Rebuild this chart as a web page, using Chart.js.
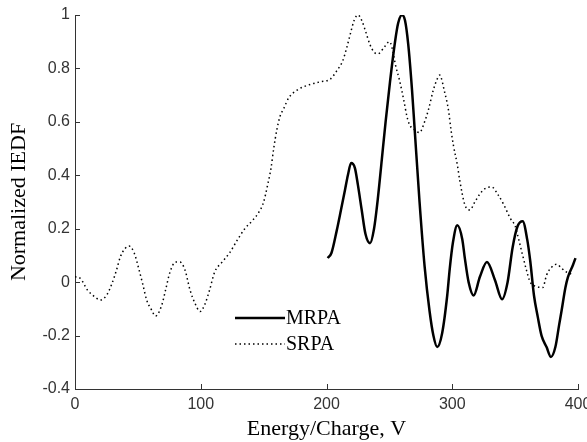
<!DOCTYPE html>
<html>
<head>
<meta charset="utf-8">
<script src="https://cdn.jsdelivr.net/npm/chart.js@4/dist/chart.umd.min.js"></script>
<style>
  html, body { margin: 0; padding: 0; background: #fff; overflow: hidden; width: 587px; height: 442px; }
  canvas { display: block; }
</style>
</head>
<body>
<canvas id="iedfChart" width="600" height="442"></canvas>
<script>
// energy (V) and normalized IEDF
const srpaEnergy = [0,4,10,16,20,25,29,33,36,40,
  43,47,51,54,57,61,64,69,72,75.5,
  80,83.5,87.5,91.5,95.5,99.5,103,107,111,117,
  123,129,135,141,146,150,153,156,158,160.5,
  163,166,170,177,187,195,203,208,213,216,
  219,222,225,228,231,234.5,238,241,246,250,
  252,255,258,261.5,264,266,270,274,278,281,
  285,288,290,294,297,299,301,304,306,310,
  314,318,322,326,331.5,336,341,346,350,353,
  356,359,362,366,372,375,379,383,387,391,
  395];
const srpaValues = [0.02,0.015,-0.03,-0.056,-0.067,-0.05,-0.01,0.045,0.094,0.127,
  0.135,0.11,0.045,-0.01,-0.067,-0.105,-0.127,-0.086,-0.03,0.037,
  0.075,0.075,0.045,-0.03,-0.08,-0.11,-0.086,-0.03,0.037,0.075,
  0.11,0.157,0.2,0.23,0.26,0.3,0.36,0.43,0.5,0.57,
  0.62,0.65,0.69,0.72,0.74,0.75,0.76,0.79,0.83,0.876,
  0.93,0.98,1.0,0.98,0.94,0.89,0.86,0.855,0.88,0.9,
  0.88,0.81,0.757,0.68,0.62,0.59,0.57,0.56,0.6,0.644,
  0.72,0.76,0.775,0.71,0.644,0.57,0.51,0.44,0.38,0.29,
  0.27,0.3,0.33,0.35,0.356,0.33,0.29,0.24,0.21,0.157,
  0.1,0.045,0.0,-0.015,-0.02,0.026,0.056,0.067,0.052,0.037,
  0.03];

const mrpaEnergy = [201,204,208,211.5,214.7,217,219.6,222.6,225,228,
  231,234.6,237.8,241,244,247,250.5,254.5,257,260,
  262.4,265,268,270,274,278,282,285,288,292,
  296,298,300.6,304,308,310,313,317,322,327.6,
  334,339.6,344,348,352,356,359.6,362,365,368,
  371,375,378.5,382,385,387,390,392,396,398];
const mrpaValues = [0.09,0.11,0.19,0.27,0.345,0.40,0.446,0.427,0.363,0.27,
  0.18,0.146,0.2,0.32,0.46,0.6,0.75,0.9,0.97,1.0,
  0.98,0.89,0.72,0.58,0.3,0.06,-0.11,-0.2,-0.243,-0.19,
  -0.05,0.05,0.15,0.213,0.16,0.09,0.0,-0.05,0.02,0.075,
  0.007,-0.064,0.0,0.13,0.21,0.228,0.16,0.08,-0.05,-0.13,
  -0.2,-0.243,-0.28,-0.243,-0.16,-0.105,-0.02,0.019,0.064,0.09];

const xTicks = [0, 100, 200, 300, 400];
const yTicks = [-0.4, -0.2, 0, 0.2, 0.4, 0.6, 0.8, 1];

const toPoints = (xs, ys) => xs.map((x, i) => ({ x: x, y: ys[i] }));
const tickFont = { family: "'Liberation Sans', Arial, sans-serif", size: 16 };
const titleFont = { family: "'Liberation Serif', 'Times New Roman', serif", size: 22 };

// MATLAB style ticks pointing into the plot
const innerTicks = {
  id: "innerTicks",
  afterDraw(chart) {
    const ctx = chart.ctx, a = chart.chartArea;
    const xs = chart.scales.x, ys = chart.scales.y;
    ctx.save();
    ctx.strokeStyle = "#333";
    ctx.lineWidth = 1;
    ctx.beginPath();
    xTicks.forEach(v => {
      const px = Math.round(xs.getPixelForValue(v)) + 0.5;
      ctx.moveTo(px, a.bottom); ctx.lineTo(px, a.bottom - 5);
    });
    yTicks.forEach(v => {
      const py = Math.round(ys.getPixelForValue(v)) + 0.5;
      ctx.moveTo(a.left, py); ctx.lineTo(a.left + 5, py);
    });
    ctx.stroke();
    ctx.restore();
  }
};

// legend drawn inside the axes, lower middle
const innerLegend = {
  id: "innerLegend",
  afterDraw(chart) {
    const ctx = chart.ctx, a = chart.chartArea;
    const x0 = a.left + 160, x1 = a.left + 210;
    ctx.save();
    ctx.font = "20px 'Liberation Serif', 'Times New Roman', serif";
    ctx.fillStyle = "#000";
    ctx.textBaseline = "middle";
    chart.data.datasets.forEach((ds, i) => {
      const y = a.top + 303 + i * 26;
      ctx.strokeStyle = ds.borderColor;
      ctx.lineWidth = ds.borderWidth;
      ctx.setLineDash(ds.borderDash || []);
      ctx.beginPath();
      ctx.moveTo(x0, y); ctx.lineTo(x1, y);
      ctx.stroke();
      ctx.setLineDash([]);
      ctx.fillText(ds.label, x1 + 1, y + 1);
    });
    ctx.restore();
  }
};

new Chart(document.getElementById("iedfChart"), {
  type: "line",
  data: {
    datasets: [
      { label: "MRPA", data: toPoints(mrpaEnergy, mrpaValues), borderColor: "#000", borderWidth: 2.5, pointRadius: 0, cubicInterpolationMode: "monotone", fill: false },
      { label: "SRPA", data: toPoints(srpaEnergy, srpaValues), borderColor: "#000", borderWidth: 1.5, borderDash: [1.5, 3], pointRadius: 0, cubicInterpolationMode: "monotone", fill: false }
    ]
  },
  options: {
    responsive: false,
    animation: false,
    layout: { padding: { top: 15, right: 22, left: 0, bottom: 0 } },
    plugins: { legend: { display: false }, tooltip: { enabled: false } },
    scales: {
      x: {
        type: "linear", min: 0, max: 400,
        afterBuildTicks: s => { s.ticks = xTicks.map(v => ({ value: v })); },
        afterFit: s => { s.height = 53; },
        grid: { drawOnChartArea: false, drawTicks: false },
        border: { color: "#333", width: 1 },
        ticks: { color: "#333", font: tickFont, padding: 6, maxRotation: 0 },
        title: { display: true, text: "Energy/Charge, V", color: "#000", font: titleFont, padding: { top: 0, bottom: 0 } }
      },
      y: {
        type: "linear", min: -0.4, max: 1,
        afterBuildTicks: s => { s.ticks = yTicks.map(v => ({ value: v })); },
        afterFit: s => { s.width = 75; },
        grid: { drawOnChartArea: false, drawTicks: false },
        border: { color: "#333", width: 1 },
        ticks: { color: "#333", font: tickFont, padding: 5, callback: v => String(Math.round(v * 10) / 10) },
        title: { display: true, text: "Normalized IEDF", color: "#000", font: titleFont, padding: { top: 6, bottom: 0 } }
      }
    }
  },
  plugins: [innerTicks, innerLegend]
});
</script>
</body>
</html>
